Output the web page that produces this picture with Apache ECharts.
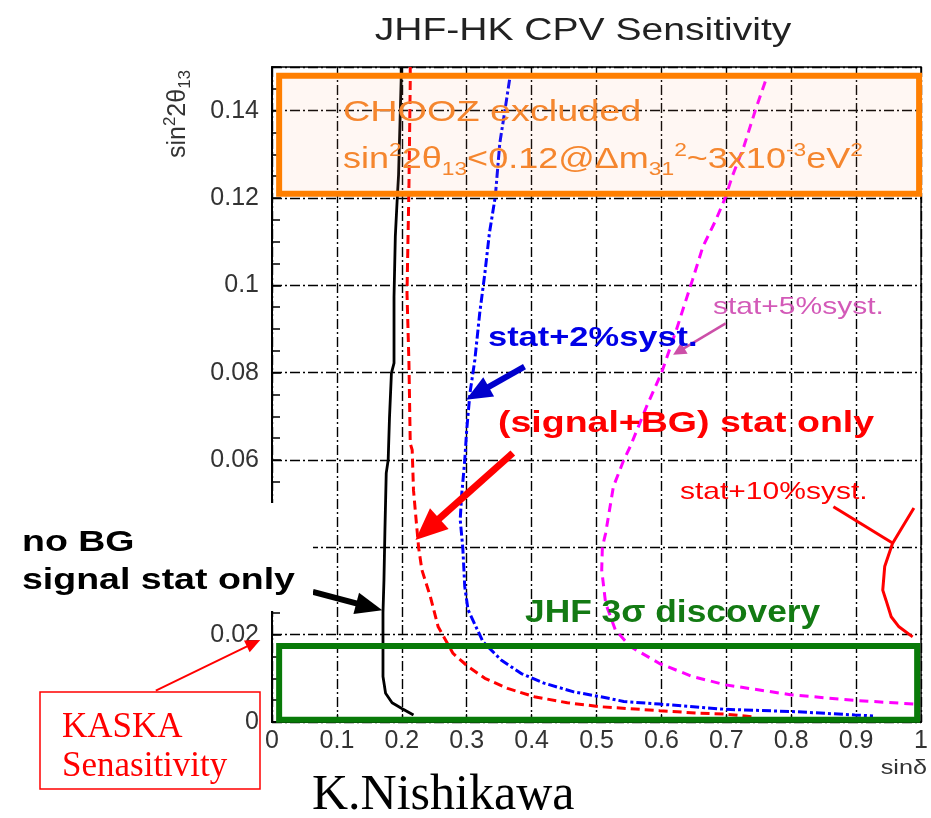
<!DOCTYPE html>
<html>
<head>
<meta charset="utf-8">
<title>JHF-HK CPV Sensitivity</title>
<script src="https://cdn.jsdelivr.net/npm/echarts@6.0.0/dist/echarts.min.js"></script>
<style>
  html, body { margin: 0; padding: 0; background: #fff; }
  #chart { width: 931px; height: 818px; }
</style>
</head>
<body>
<div id="chart"></div>
<script>
// Axis ranges and ticks
const xMin = 0, xMax = 1, xStep = 0.1;
const yMin = 0, yMax = 0.15, yStep = 0.02;

// no BG, signal stat only (black solid)
const noBgX = [0.199, 0.199, 0.195, 0.193, 0.190, 0.188, 0.188, 0.184, 0.181, 0.179, 0.176, 0.174, 0.1725, 0.171, 0.171, 0.175, 0.185, 0.200, 0.218];
const noBgY = [0.150, 0.147, 0.1253, 0.120, 0.1112, 0.0974, 0.0822, 0.0799, 0.0696, 0.060, 0.057, 0.044, 0.0325, 0.025, 0.0104, 0.0066, 0.0044, 0.0031, 0.0016];

// (signal+BG) stat only (red dashed)
const sigBgX = [0.213, 0.213, 0.211, 0.208, 0.211, 0.213, 0.216, 0.218, 0.223, 0.226, 0.231, 0.244, 0.256, 0.279, 0.302, 0.328, 0.363, 0.404, 0.455, 0.506, 0.547, 0.597, 0.658, 0.699, 0.740];
const sigBgY = [0.150, 0.1467, 0.1226, 0.0982, 0.0822, 0.0638, 0.0623, 0.0531, 0.0447, 0.0398, 0.0348, 0.0287, 0.0218, 0.0157, 0.0127, 0.0100, 0.0077, 0.0058, 0.0044, 0.0035, 0.0031, 0.0026, 0.0020, 0.0018, 0.0012];

// stat + 2% syst. (blue dash-dot)
const syst2X = [0.366, 0.359, 0.351, 0.344, 0.335, 0.328, 0.320, 0.3125, 0.305, 0.300, 0.297, 0.292, 0.290, 0.294, 0.297, 0.302, 0.325, 0.353, 0.384, 0.419, 0.465, 0.506, 0.542, 0.597, 0.699, 0.801, 0.898, 0.926];
const syst2Y = [0.1471, 0.1402, 0.1326, 0.1203, 0.1120, 0.1028, 0.0936, 0.0829, 0.0753, 0.0669, 0.0600, 0.0516, 0.0463, 0.0398, 0.031, 0.0257, 0.0184, 0.0142, 0.0111, 0.0089, 0.0069, 0.0058, 0.0047, 0.0041, 0.0029, 0.0024, 0.0016, 0.0014];

// stat + 5% syst. (magenta dashed)
const syst5X = [0.760, 0.745, 0.727, 0.709, 0.699, 0.684, 0.664, 0.648, 0.623, 0.600, 0.577, 0.552, 0.542, 0.526, 0.514, 0.509, 0.508, 0.514, 0.529, 0.552, 0.597, 0.648, 0.699, 0.801, 0.903, 0.989];
const syst5Y = [0.1467, 0.1402, 0.1318, 0.1249, 0.1203, 0.1150, 0.1089, 0.1013, 0.0898, 0.0799, 0.0722, 0.0631, 0.0600, 0.0539, 0.0432, 0.0400, 0.0348, 0.0272, 0.0211, 0.0173, 0.0134, 0.0104, 0.0085, 0.0062, 0.0049, 0.0041];

// stat + 10% syst. (red solid)
const syst10X = [0.989, 0.9715, 0.956, 0.944, 0.941, 0.946, 0.954, 0.966, 0.987];
const syst10Y = [0.0490, 0.0447, 0.0409, 0.0356, 0.0302, 0.0279, 0.0241, 0.0218, 0.0195];

// Shaded boxes: [x0, y0, x1, y1]
const choozBox = [0.011, 0.121, 0.997, 0.148];
const jhfBox = [0.011, 0.0005, 0.994, 0.0174];

// Arrow end points in (sinδ, sin²2θ13): [fromX, fromY, toX, toY]
const arrowNoBg = [0.063, 0.0298, 0.170, 0.0256];
const arrowSigBg = [0.371, 0.0616, 0.221, 0.0417];
const arrowSyst2 = [0.389, 0.0814, 0.299, 0.0738];
const arrowSyst5 = [0.699, 0.0913, 0.618, 0.0841];
const arrowSyst10 = [0.865, 0.0493, 0.956, 0.0410];
const arrowKaska = [-0.179, 0.0072, -0.018, 0.0188];

const SANS = '"Liberation Sans", Arial, sans-serif';
const SERIF = '"Liberation Serif", "Times New Roman", serif';
const ORANGE = '#FF7F00';
const ORANGE_TEXT = '#F5862E';
const GREEN = '#087A08';

const zip = (xs, ys) => xs.map((x, i) => [x, ys[i]]);
const gridLine = { color: '#000', width: 1.4, type: [10, 3, 2, 3] };

function curve(name, xs, ys, color, width, type) {
  return {
    name, type: 'line', data: zip(xs, ys), symbol: 'none', z: 3,
    lineStyle: { color, width, type }, animation: false, clip: true
  };
}

function boxSeries(name, box, fill, stroke) {
  return {
    name, type: 'custom', z: 6, animation: false,
    data: [box],
    renderItem(params, api) {
      const p0 = api.coord([api.value(0), api.value(3)]);
      const p1 = api.coord([api.value(2), api.value(1)]);
      return {
        type: 'rect',
        shape: { x: p0[0], y: p0[1], width: p1[0] - p0[0], height: p1[1] - p0[1] },
        style: { fill, stroke, lineWidth: 6 }
      };
    }
  };
}

const chart = echarts.init(document.getElementById('chart'), null, { renderer: 'canvas' });

chart.setOption({
  animation: false,
  backgroundColor: '#fff',
  grid: { left: 272, top: 67, width: 655, height: 655, show: true, borderColor: '#000', borderWidth: 1.5, backgroundColor: 'transparent' },
  xAxis: {
    type: 'value', min: xMin, max: xMax, interval: xStep,
    axisLine: { show: true, lineStyle: { color: '#000', width: 2 } },
    axisTick: { show: true, inside: true, length: 8, lineStyle: { color: '#000', width: 1.2 } },
    minorTick: { show: true, splitNumber: 5, length: 5, lineStyle: { color: '#000', width: 1 } },
    splitLine: { show: true, lineStyle: gridLine },
    axisLabel: { color: '#333', fontFamily: SANS, fontSize: 25, margin: 7, showMinLabel: true, showMaxLabel: true,
      formatter: v => (v === 0 ? '0' : v === 1 ? '1' : v.toFixed(1)) }
  },
  yAxis: {
    type: 'value', min: yMin, max: yMax, interval: yStep,
    axisLine: { show: true, lineStyle: { color: '#000', width: 2 } },
    axisTick: { show: true, inside: true, length: 9, lineStyle: { color: '#000', width: 1.5 } },
    minorTick: { show: true, splitNumber: 4, length: 8, lineStyle: { color: '#000', width: 1.5 } },
    splitLine: { show: true, lineStyle: gridLine },
    axisLabel: { color: '#333', fontFamily: SANS, fontSize: 25, margin: 13, showMinLabel: true, showMaxLabel: false,
      formatter: v => (v === 0 ? '0' : String(+v.toFixed(2))) }
  },
  series: [
    curve('no BG signal stat only', noBgX, noBgY, '#000', 2.8, 'solid'),
    curve('(signal+BG) stat only', sigBgX, sigBgY, '#FF0000', 3, [9, 5]),
    curve('stat+2%syst.', syst2X, syst2Y, '#0000FF', 3, [9, 3, 3, 3]),
    curve('stat+5%syst.', syst5X, syst5Y, '#FF00FF', 3, [9, 6]),
    curve('stat+10%syst.', syst10X, syst10Y, '#FF0000', 3, 'solid'),
    boxSeries('CHOOZ excluded', choozBox, 'rgba(255,170,120,0.09)', ORANGE),
    boxSeries('JHF 3σ discovery', jhfBox, 'transparent', GREEN)
  ]
});

// Arrow made of a shaft and a filled triangular head, in pixels
function arrowEls(a, color, width, headLen, headW) {
  const p0 = chart.convertToPixel({ gridIndex: 0 }, [a[0], a[1]]);
  const p1 = chart.convertToPixel({ gridIndex: 0 }, [a[2], a[3]]);
  const dx = p1[0] - p0[0], dy = p1[1] - p0[1];
  const len = Math.hypot(dx, dy);
  const ux = dx / len, uy = dy / len;
  const bx = p1[0] - ux * headLen, by = p1[1] - uy * headLen;
  const end = headLen ? [bx + ux * 2, by + uy * 2] : [p1[0], p1[1]];
  const els = [{
    type: 'polyline', z: 20, silent: true,
    shape: { points: [[p0[0], p0[1]], end] },
    style: { stroke: color, lineWidth: width, lineCap: 'butt', fill: null }
  }];
  if (headLen) {
    els.push({
      type: 'polygon', z: 20, silent: true,
      shape: { points: [[p1[0], p1[1]], [bx - uy * headW / 2, by + ux * headW / 2], [bx + uy * headW / 2, by - ux * headW / 2]] },
      style: { fill: color }
    });
  }
  return els;
}

function txt(x, y, text, font, fill, opts, align) {
  const a = align || 'left';
  return Object.assign({
    type: 'text', x, y, z: 30, silent: true,
    style: { text, font, fill, align: a, verticalAlign: 'middle', textAlign: a, textVerticalAlign: 'middle' }
  }, opts || {});
}

function richStyles(size, supSize, fill, lineHeight) {
  return {
    n: { fontFamily: SANS, fontSize: size, fill, color: fill, lineHeight, verticalAlign: 'middle' },
    sup: { fontFamily: SANS, fontSize: supSize, fill, color: fill, verticalAlign: 'top' },
    sub: { fontFamily: SANS, fontSize: supSize, fill, color: fill, verticalAlign: 'bottom' }
  };
}

const graphics = [
  // blank panel behind the "no BG" label
  { type: 'rect', z: 25, silent: true, shape: { x: 0, y: 503, width: 313, height: 108 }, style: { fill: '#fff' } },
  txt(583, 31, 'JHF-HK CPV Sensitivity', '31px ' + SANS, '#222', { scaleX: 1.26 }, 'center'),
  { type: 'text', x: 178, y: 114, z: 30, rotation: Math.PI / 2, silent: true,
    style: { text: '{n|sin}{sup|2}{n|2θ}{sub|13}', rich: richStyles(25, 17, '#333', 32), fill: '#333',
      align: 'center', verticalAlign: 'middle', textAlign: 'center', textVerticalAlign: 'middle' } },
  txt(927, 768, 'sinδ', '21px ' + SANS, '#333', { scaleX: 1.2 }, 'right'),
  txt(343, 113, 'CHOOZ excluded', '30px ' + SANS, ORANGE_TEXT, { scaleX: 1.26 }),
  { type: 'text', x: 343, y: 160, z: 30, scaleX: 1.2, silent: true,
    style: { text: '{n|sin}{sup|2}{n|2θ}{sub|13}{n|<0.12@Δm}{sub|31}{sup|2}{n|~3x10}{sup|-3}{n|eV}{sup|2}',
      rich: richStyles(30, 19, ORANGE_TEXT, 38), fill: ORANGE_TEXT,
      align: 'left', verticalAlign: 'middle', textAlign: 'left', textVerticalAlign: 'middle' } },
  txt(488, 338, 'stat+2%syst.', 'bold 28px ' + SANS, '#0000E6', { scaleX: 1.23 }),
  txt(498, 424, '(signal+BG) stat only', 'bold 30px ' + SANS, '#FF0000', { scaleX: 1.25 }),
  txt(713, 307, 'stat+5%syst.', '24px ' + SANS, '#D35AB8', { scaleX: 1.25 }),
  txt(680, 492, 'stat+10%syst.', '24px ' + SANS, '#FF0000', { scaleX: 1.25 }),
  txt(525, 613, 'JHF 3σ discovery', 'bold 31px ' + SANS, '#137A13', { scaleX: 1.14 }),
  txt(22, 543, 'no BG', 'bold 30px ' + SANS, '#000', { scaleX: 1.25 }),
  txt(22, 581, 'signal stat only', 'bold 30px ' + SANS, '#000', { scaleX: 1.25 }),
  txt(312, 796, 'K.Nishikawa', '50px ' + SERIF, '#000'),
  // KASKA note: outlined box (no fill so the axis label "0" stays visible)
  { type: 'rect', z: 28, silent: true, shape: { x: 40, y: 692, width: 220, height: 97 }, style: { fill: null, stroke: '#FF0000', lineWidth: 1.5 } },
  txt(62, 728, 'KASKA', '35px ' + SERIF, '#FF0000'),
  txt(62, 767, 'Senasitivity', '35px ' + SERIF, '#FF0000')
].concat(
  arrowEls(arrowNoBg, '#000', 6, 27, 22),
  arrowEls(arrowSigBg, '#FF0000', 7, 32, 28),
  arrowEls(arrowSyst2, '#0000CC', 6, 26, 22),
  arrowEls(arrowSyst5, '#CC4FA8', 2.5, 13, 13),
  arrowEls(arrowSyst10, '#FF0000', 3, 0, 0),
  arrowEls(arrowKaska, '#FF0000', 2, 15, 13)
);

chart.setOption({ graphic: { elements: graphics } });
</script>
</body>
</html>
